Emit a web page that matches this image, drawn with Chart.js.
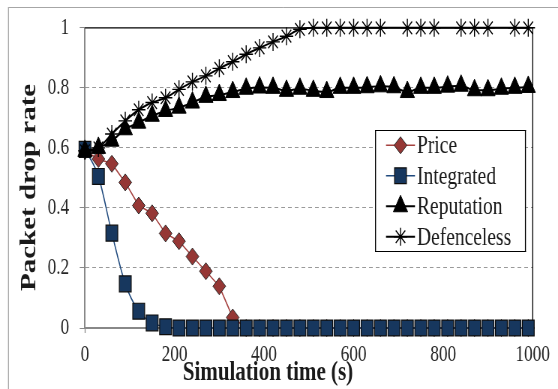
<!DOCTYPE html>
<html><head><meta charset="utf-8">
<script src="https://cdn.jsdelivr.net/npm/chart.js@4.4.0/dist/chart.umd.min.js"></script>
<style>
html,body{margin:0;padding:0;background:#fff;overflow:hidden;width:558px;height:389px;}
#wrap{position:absolute;left:0;top:0;width:744px;height:389px;transform:scaleX(0.75);transform-origin:0 0;}
canvas{display:block;}
</style></head><body>
<div id="wrap"><canvas id="c" width="744" height="389"></canvas></div>
<script>
// ---- data ----
const times = [0,30,60,90,120,150,180,210,240,270,300,330,360,390,420,450,480,510,540,570,600,630,660,690,720,750,780,810,840,870,900,930,960,990];
const priceRate = [0.59,0.563,0.547,0.485,0.408,0.382,0.315,0.289,0.238,0.189,0.139,0.035,0,0,0,0,0,0,0,0,0,0,0,0,0,0,0,0,0,0,0,0,0,0];
const integratedRate = [0.595,0.505,0.316,0.147,0.056,0.017,0.004,0,0,0,0,0,0,0,0,0,0,0,0,0,0,0,0,0,0,0,0,0,0,0,0,0,0,0];
const reputationRate = [0.59,0.60,0.624,0.662,0.684,0.707,0.723,0.734,0.751,0.770,0.776,0.786,0.797,0.801,0.80,0.79,0.797,0.79,0.786,0.80,0.80,0.802,0.805,0.802,0.786,0.80,0.80,0.804,0.807,0.792,0.792,0.797,0.80,0.803];
const defencelessRate = [0.59,0.60,0.646,0.69,0.727,0.751,0.767,0.795,0.82,0.84,0.865,0.887,0.912,0.933,0.953,0.972,0.995,1,1,1,1,1,1,null,1,1,1,null,1,1,1,null,1,1];
const seriesNames = ['Price','Integrated','Reputation','Defenceless'];
const xTickLabels = ['0','200','400','600','800','1000'];
const yTickLabels = ['0','0.2','0.4','0.6','0.8','1'];
const xTitle = 'Simulation time (s)';
const yTitle = 'Packet drop rate';

// ---- layout (logical px; canvas is squeezed horizontally by CSS) ----
const SERIF = "'Liberation Serif','Times New Roman',serif";
const mk = vals => times.map((t, i) => ({x: t, y: vals[i]}));

const styles = [
  {line:'#a5413f', lw:1.5, ps:'rectRot', r:8.5, fill:'#953735', stroke:'#262626', bw:1, tension:0},
  {line:'#1f497d', lw:1.5, ps:'rect', r:11.2, fill:'#17375e', stroke:'#0d0d0d', bw:1.2, tension:0.3},
  {line:'#000000', lw:2, ps:'triangle', r:11, fill:'#000000', stroke:'#000000', bw:1, tension:0.3},
  {line:'#000000', lw:2, ps:'star', r:9, fill:'#000000', stroke:'#000000', bw:1.4, tension:0.3}
];
const allVals = [priceRate, integratedRate, reputationRate, defencelessRate];
const orders = [3, 2, 1, 0];

const datasets = allVals.map((v, i) => ({
  label: seriesNames[i],
  data: mk(v),
  borderColor: styles[i].line,
  borderWidth: styles[i].lw,
  pointStyle: styles[i].ps,
  pointRadius: styles[i].r,
  pointHoverRadius: styles[i].r,
  pointBackgroundColor: styles[i].fill,
  pointBorderColor: styles[i].stroke,
  pointBorderWidth: styles[i].bw,
  tension: styles[i].tension,
  cubicInterpolationMode: styles[i].tension ? 'monotone' : 'default',
  spanGaps: true,
  clip: false,
  order: orders[i]
}));

function drawMarker(ctx, st, x, y) {
  ctx.save();
  ctx.fillStyle = st.fill;
  ctx.strokeStyle = st.stroke;
  ctx.lineWidth = st.bw;
  Chart.helpers.drawPoint(ctx, {pointStyle: st.ps, radius: st.r, rotation: 0, borderWidth: st.bw}, x, y);
  ctx.restore();
}

const decor = {
  id: 'decor',
  beforeDraw(chart) {
    const ctx = chart.ctx;
    ctx.save();
    ctx.strokeStyle = '#a6a6a6';
    ctx.lineWidth = 1;
    ctx.beginPath(); ctx.moveTo(11.3, 7.5); ctx.lineTo(chart.width, 7.5); ctx.stroke();
    ctx.lineWidth = 1.333;
    ctx.beginPath(); ctx.moveTo(11.33, 7); ctx.lineTo(11.33, chart.height); ctx.stroke();
    ctx.restore();
  },
  beforeDatasetsDraw(chart) {
    const {ctx, chartArea: a} = chart;
    ctx.save();
    ctx.strokeStyle = '#000';
    ctx.lineWidth = 1.2;
    ctx.beginPath(); ctx.moveTo(a.left, a.top); ctx.lineTo(a.right, a.top); ctx.stroke();
    ctx.lineWidth = 1.333;
    ctx.beginPath(); ctx.moveTo(a.right, a.top); ctx.lineTo(a.right, a.bottom); ctx.stroke();
    ctx.restore();
  },
  afterDraw(chart) {
    const ctx = chart.ctx;
    // legend
    const L = {x0: 500, x1: 701.3, y0: 130, y1: 252};
    ctx.save();
    ctx.fillStyle = '#fff';
    ctx.fillRect(L.x0, L.y0, L.x1 - L.x0, L.y1 - L.y0);
    ctx.strokeStyle = '#000';
    ctx.lineWidth = 1;
    ctx.beginPath(); ctx.moveTo(L.x0, L.y0 + 0.5); ctx.lineTo(L.x1, L.y0 + 0.5);
    ctx.moveTo(L.x0, L.y1 - 0.5); ctx.lineTo(L.x1, L.y1 - 0.5); ctx.stroke();
    ctx.lineWidth = 1.333;
    ctx.beginPath(); ctx.moveTo(L.x0 + 0.7, L.y0); ctx.lineTo(L.x0 + 0.7, L.y1);
    ctx.moveTo(L.x1 - 0.7, L.y0); ctx.lineTo(L.x1 - 0.7, L.y1); ctx.stroke();
    const rowH = (L.y1 - L.y0) / seriesNames.length;
    seriesNames.forEach((name, i) => {
      const cy = L.y0 + rowH * (i + 0.5);
      const st = styles[i];
      ctx.strokeStyle = st.line; ctx.lineWidth = st.lw;
      ctx.beginPath(); ctx.moveTo(514.7, cy); ctx.lineTo(553.3, cy); ctx.stroke();
      drawMarker(ctx, st, 534, cy);
      ctx.fillStyle = '#1a1a1a';
      ctx.font = '26px ' + SERIF;
      ctx.textAlign = 'left'; ctx.textBaseline = 'middle';
      ctx.fillText(name, 556, cy + 1);
    });
    // axis titles
    ctx.fillStyle = '#1a1a1a';
    ctx.font = 'bold 28px ' + SERIF;
    ctx.textAlign = 'center'; ctx.textBaseline = 'alphabetic';
    ctx.fillText(xTitle, 357.3, 380);
    ctx.translate(46.7, 187.4);
    ctx.rotate(-Math.PI / 2);
    ctx.font = 'bold 29px ' + SERIF;
    ctx.fillText(yTitle, 0, 0);
    ctx.restore();
  }
};

new Chart(document.getElementById('c'), {
  type: 'line',
  data: {datasets},
  options: {
    responsive: false,
    devicePixelRatio: 1,
    animation: false,
    events: [],
    layout: {padding: {left: 0, right: 33.7, top: 27, bottom: 0}},
    plugins: {legend: {display: false}, tooltip: {enabled: false}},
    scales: {
      x: {
        type: 'linear', min: 0, max: 1000, offset: false,
        afterFit: s => { s.height = 61; },
        ticks: {stepSize: 200, autoSkip: false, maxRotation: 0, padding: 8,
          color: '#262626', font: {family: SERIF, size: 23},
          callback: (v, i) => xTickLabels[i]},
        grid: {drawOnChartArea: false, drawTicks: true, tickLength: 5, tickColor: '#888', tickWidth: 1.333},
        border: {display: true, color: '#888', width: 2},
        title: {display: false}
      },
      y: {
        type: 'linear', min: 0, max: 1,
        afterFit: s => { s.width = 113.3; },
        ticks: {stepSize: 0.2, padding: 14, color: '#262626', font: {family: SERIF, size: 23},
          callback: (v, i) => yTickLabels[i]},
        grid: {
          drawTicks: true, tickLength: 7, tickColor: '#888', tickWidth: 1,
          lineWidth: 1,
          color: c => (c.tick && (c.index === 0 || c.index === yTickLabels.length - 1)) ? 'rgba(0,0,0,0)' : '#9a9a9a'
        },
        border: {display: true, color: '#888', width: 2, dash: [5, 4]},
        title: {display: false}
      }
    }
  },
  plugins: [decor]
});
</script>
</body></html>
